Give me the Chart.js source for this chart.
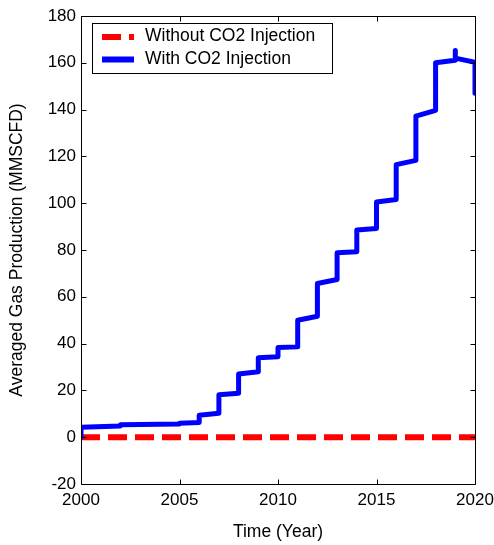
<!DOCTYPE html>
<html>
<head>
<meta charset="utf-8">
<script src="https://cdn.jsdelivr.net/npm/chart.js@4.4.0/dist/chart.umd.min.js"></script>
<style>
  html, body { margin: 0; padding: 0; background: #fff; }
  #wrap { width: 494px; height: 545px; }
</style>
</head>
<body>
<div id="wrap"><canvas id="gasChart" width="494" height="545"></canvas></div>
<script>
// Values: time (year) vs averaged gas production (MMSCFD)
const timeYears = [2000, 2000, 2002, 2002, 2005, 2005, 2006, 2006, 2007, 2007, 2008, 2008,
  2009, 2009, 2010, 2010, 2011, 2011, 2012, 2012, 2013, 2013, 2014, 2014, 2015, 2015,
  2016, 2016, 2017, 2017, 2018, 2018, 2019, 2019, 2019, 2020, 2020];
const gasWithCO2 = [0, 4.2, 4.8, 5.3, 5.6, 6.0, 6.3, 9.4, 10.2, 18.1, 18.8, 27.0,
  28.0, 34.0, 34.4, 38.3, 38.6, 50.0, 51.7, 65.7, 67.4, 78.8, 79.2, 88.5, 89.2, 100.5,
  101.6, 116.5, 118.3, 137.2, 139.7, 160.0, 161.1, 165.3, 162.0, 160.2, 147.0];
const baseYears = [2000, 2020];
const gasWithoutCO2 = [0, 0];

const xTicks = [2000, 2005, 2010, 2015, 2020];
const yTicks = [-20, 0, 20, 40, 60, 80, 100, 120, 140, 160, 180];
const seriesLabels = ['Without CO2 Injection', 'With CO2 Injection'];

const FONT = 'Liberation Sans, Arial, Helvetica, sans-serif';

const toPoints = (xs, ys) => xs.map((x, i) => ({ x: x, y: ys[i] }));

// Box around the plot, inward tick marks on all sides, and the legend
const boxPlugin = {
  id: 'boxPlugin',
  afterDatasetsDraw(chart) {
    const ctx = chart.ctx;
    const a = chart.chartArea;
    const xs = chart.scales.x, ys = chart.scales.y;
    const L = Math.round(a.left) + 0.5, R = Math.round(a.right) + 0.5;
    const T = Math.round(a.top) + 0.5, B = Math.round(a.bottom) + 0.5;
    const tl = 5;

    ctx.save();
    ctx.strokeStyle = '#000';
    ctx.lineWidth = 1;
    ctx.setLineDash([]);
    ctx.beginPath();
    ctx.rect(L, T, R - L, B - T);
    xTicks.forEach(v => {
      const px = Math.round(xs.getPixelForValue(v)) + 0.5;
      ctx.moveTo(px, B); ctx.lineTo(px, B - tl);
      ctx.moveTo(px, T); ctx.lineTo(px, T + tl);
    });
    yTicks.forEach(v => {
      const py = Math.round(ys.getPixelForValue(v)) + 0.5;
      ctx.moveTo(L, py); ctx.lineTo(L + tl, py);
      ctx.moveTo(R, py); ctx.lineTo(R - tl, py);
    });
    ctx.stroke();

    // legend
    const lg = { x: 92.5, y: 23.5, w: 240, h: 50 };
    ctx.fillStyle = '#fff';
    ctx.fillRect(lg.x, lg.y, lg.w, lg.h);
    ctx.strokeRect(lg.x, lg.y, lg.w, lg.h);
    const rows = [37, 59.5];
    chart.data.datasets.forEach((ds, i) => {
      const y = rows[i];
      ctx.beginPath();
      ctx.strokeStyle = ds.borderColor;
      ctx.lineWidth = 6;
      ctx.lineCap = 'butt';
      ctx.setLineDash(ds.borderDash || []);
      ctx.moveTo(102, y);
      ctx.lineTo(134, y);
      ctx.stroke();
      ctx.setLineDash([]);
      ctx.fillStyle = '#000';
      ctx.font = '17.5px ' + FONT;
      ctx.textBaseline = 'middle';
      ctx.textAlign = 'left';
      ctx.fillText(ds.label, 145, y - 0.5);
    });
    ctx.restore();
  }
};

new Chart(document.getElementById('gasChart'), {
  type: 'line',
  data: {
    datasets: [
      {
        label: seriesLabels[0],
        data: toPoints(baseYears, gasWithoutCO2),
        borderColor: '#ff0000',
        borderWidth: 6,
        borderDash: [19, 8],
        borderCapStyle: 'butt',
        pointRadius: 0,
        fill: false,
        tension: 0,
        order: 1
      },
      {
        label: seriesLabels[1],
        data: toPoints(timeYears, gasWithCO2),
        borderColor: '#0000ff',
        borderWidth: 5,
        borderCapStyle: 'round',
        borderJoinStyle: 'round',
        pointRadius: 0,
        fill: false,
        tension: 0,
        order: 0
      }
    ]
  },
  options: {
    responsive: false,
    animation: false,
    devicePixelRatio: 1,
    layout: { padding: { top: 16, right: 19, left: 0, bottom: 0 } },
    plugins: { legend: { display: false }, tooltip: { enabled: false } },
    scales: {
      x: {
        type: 'linear',
        min: 2000,
        max: 2020,
        afterBuildTicks: s => { s.ticks = xTicks.map(v => ({ value: v })); },
        afterFit: s => { s.height = 61; s.paddingLeft = 0; s.paddingRight = 0; },
        grid: { display: false, drawTicks: false },
        border: { display: false },
        ticks: {
          padding: 6,
          color: '#000',
          font: { family: FONT, size: 17 },
          maxRotation: 0,
          callback: v => String(v)
        },
        title: {
          display: true,
          text: 'Time (Year)',
          color: '#000',
          font: { family: FONT, size: 17.5 },
          padding: { top: 0, bottom: 2.5 }
        }
      },
      y: {
        type: 'linear',
        min: -20,
        max: 180,
        afterBuildTicks: s => { s.ticks = yTicks.map(v => ({ value: v })); },
        afterFit: s => { s.width = 81; s.paddingTop = 0; s.paddingBottom = 0; },
        grid: { display: false, drawTicks: false },
        border: { display: false },
        ticks: {
          padding: 5,
          color: '#000',
          font: { family: FONT, size: 17 },
          callback: v => String(v)
        },
        title: {
          display: true,
          text: 'Averaged Gas Production (MMSCFD)',
          color: '#000',
          font: { family: FONT, size: 17.5 },
          padding: { top: 7, bottom: 0 }
        }
      }
    }
  },
  plugins: [boxPlugin]
});
</script>
</body>
</html>
